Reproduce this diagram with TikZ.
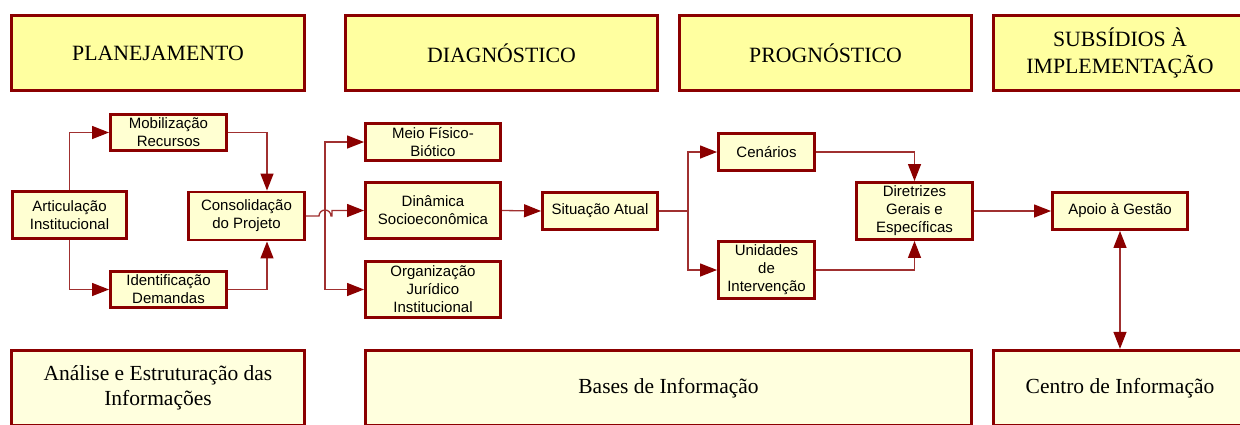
\documentclass[tikz,border=0pt]{standalone}
\usepackage{fontspec}
\setmainfont{Liberation Serif}
\newfontfamily\arialf{Liberation Sans}
\usetikzlibrary{arrows.meta}
\definecolor{bord}{HTML}{8B0000}
\definecolor{lineclr}{HTML}{A03030}
\definecolor{topfill}{HTML}{FFFFA0}
\definecolor{botfill}{HTML}{FFFFDE}
\definecolor{midfill}{HTML}{FFFFD2}
\begin{document}
\begin{tikzpicture}[x=1pt,y=-1pt,
  phase/.style={draw=bord,line width=2.8pt,fill=topfill,font=\fontsize{21.8}{27}\selectfont,align=center,inner sep=0pt},
  basebox/.style={draw=bord,line width=2.8pt,fill=botfill,font=\fontsize{21.5}{25}\selectfont,align=center,inner sep=0pt},
  proc/.style={draw=bord,line width=2.9pt,fill=midfill,font=\arialf\fontsize{15}{18}\selectfont,align=center,inner sep=0pt},
  conn/.style={draw=lineclr,line width=1.3pt,-{Triangle[length=17pt,width=13pt,color=bord]}},
  conn2/.style={draw=lineclr,line width=1.3pt,{Triangle[length=17pt,width=13pt,color=bord]}-{Triangle[length=17pt,width=13pt,color=bord]}},
  plain/.style={draw=lineclr,line width=1.3pt}
]
\useasboundingbox (0,0) rectangle (1240,424);
\fill[white] (0,0) rectangle (1240,424);

% phase headers
\node[phase,minimum width=293.5pt,minimum height=75.5pt] (plan) at (158,53) {PLANEJAMENTO};
\node[phase,minimum width=312.5pt,minimum height=75.5pt] (diag) at (501.5,53) {DIAGNÓSTICO};
\node[phase,minimum width=292.5pt,minimum height=75.5pt] (prog) at (825.5,53) {PROGNÓSTICO};
\node[phase,minimum width=253.5pt,minimum height=75.5pt] (sub) at (1120,53) {SUBSÍDIOS À\\IMPLEMENTAÇÃO};

% bottom boxes
\node[basebox,minimum width=293.5pt,minimum height=75.5pt] (anal) at (158,388) {Análise e Estruturação das\\Informações};
\node[basebox,minimum width=606.5pt,minimum height=75.5pt] (bases) at (668.5,388) {Bases de Informação};
\node[basebox,minimum width=253.5pt,minimum height=75.5pt] (centro) at (1120,388) {Centro de Informação};

% process nodes
\node[proc,minimum width=114pt,minimum height=47pt] (art) at (69.5,215) {Articulação\\Institucional};
\node[proc,minimum width=116pt,minimum height=36pt] (mob) at (168.5,132.5) {Mobilização\\Recursos};
\node[proc,minimum width=116pt,minimum height=48pt] (cons) at (246.5,216) {Consolidação\\do Projeto};
\node[proc,minimum width=116pt,minimum height=36pt] (ident) at (168.5,289.5) {Identificação\\Demandas};
\node[proc,minimum width=135pt,minimum height=37pt] (meio) at (433,142) {Meio Físico-\\Biótico};
\node[proc,minimum width=135pt,minimum height=56pt] (din) at (433,210.5) {Dinâmica\\Socioeconômica};
\node[proc,minimum width=135pt,minimum height=56pt] (org) at (433,289.5) {Organização\\Jurídico\\Institucional};
\node[proc,minimum width=115pt,minimum height=37pt] (sit) at (600,211) {Situação Atual};
\node[proc,minimum width=96pt,minimum height=37pt] (cen) at (766.5,152) {Cenários};
\node[proc,minimum width=96pt,minimum height=57pt] (uni) at (766.5,270) {Unidades\\de\\Intervenção};
\node[proc,minimum width=116pt,minimum height=57pt] (dir) at (914.5,211) {Diretrizes\\Gerais e\\Específicas};
\node[proc,minimum width=135pt,minimum height=37pt] (apoio) at (1120,211) {Apoio à Gestão};

% connectors: planejamento
\draw[conn] (art.north) |- (mob.west);
\draw[conn] (art.south) |- (ident.west);
\draw[conn] (mob.east) -| ([xshift=20.5pt]cons.north);
\draw[conn] (ident.east) -| ([xshift=20.5pt]cons.south);

% connectors: diagnostico
\coordinate (cj) at (325,216);
\draw[conn] (cj) |- (meio.west);
\draw[conn] (cj) |- (org.west);
\draw[conn] (cons.east) -- (319,216) arc[start angle=180,end angle=360,radius=6] -- (332,216) -- (332,210.5) -- (din.west);
\draw[conn] (din.east) -- (sit.west);

% connectors: prognostico
\coordinate (sj) at (688,211);
\draw[plain] (sit.east) -- (sj);
\draw[conn] (sj) |- (cen.west);
\draw[conn] (sj) |- (uni.west);
\draw[conn] (cen.east) -| (dir.north);
\draw[conn] (uni.east) -| (dir.south);
\draw[conn] (dir.east) -- (apoio.west);
\draw[conn2] (apoio.south) -- (centro.north);
\end{tikzpicture}
\end{document}
